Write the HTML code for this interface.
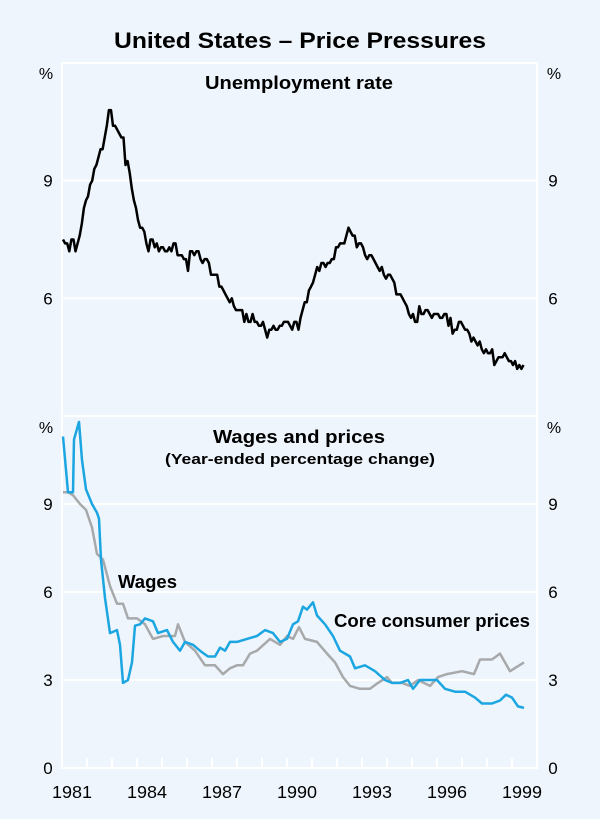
<!DOCTYPE html>
<html><head><meta charset="utf-8"><style>
html,body{margin:0;padding:0;background:#eef5fc;}
svg{display:block;font-family:"Liberation Sans",Arial,sans-serif;}
</style></head><body>
<svg id="chart" width="600" height="819" viewBox="0 0 600 819">
<rect x="0" y="0" width="600" height="819" fill="#eef5fc"/>
<text x="300" y="48" text-anchor="middle" font-size="22.5" font-weight="bold" fill="#000" textLength="372" lengthAdjust="spacingAndGlyphs">United States – Price Pressures</text>
<g id="grid"></g>
<g id="series"></g>
<g id="labels"></g>
</svg>
<script>
const unempStart = 1981;
const unempValues = [
7.5,7.4,7.4,7.2,7.5,7.5,7.2,7.4,7.6,7.9,8.3,8.5,
8.6,8.9,9.0,9.3,9.4,9.6,9.8,9.8,10.1,10.4,10.8,10.8,
10.4,10.4,10.3,10.2,10.1,10.1,9.4,9.5,9.2,8.8,8.5,8.3,
8.0,7.8,7.8,7.7,7.4,7.2,7.5,7.5,7.3,7.4,7.2,7.3,
7.3,7.2,7.2,7.3,7.2,7.4,7.4,7.1,7.1,7.1,7.0,7.0,
6.7,7.2,7.2,7.1,7.2,7.2,7.0,6.9,7.0,7.0,6.9,6.6,
6.6,6.6,6.6,6.3,6.3,6.2,6.1,6.0,5.9,6.0,5.8,5.7,
5.7,5.7,5.7,5.4,5.6,5.4,5.4,5.6,5.4,5.4,5.3,5.3,
5.4,5.2,5.0,5.2,5.2,5.3,5.2,5.2,5.3,5.3,5.4,5.4,
5.4,5.3,5.2,5.4,5.4,5.2,5.5,5.7,5.9,5.9,6.2,6.3,
6.4,6.6,6.8,6.7,6.9,6.9,6.8,6.9,6.9,7.0,7.0,7.3,
7.3,7.4,7.4,7.4,7.6,7.8,7.7,7.6,7.6,7.3,7.4,7.4,
7.3,7.1,7.0,7.1,7.1,7.0,6.9,6.8,6.7,6.8,6.6,6.5,
6.6,6.6,6.5,6.4,6.1,6.1,6.1,6.0,5.9,5.8,5.6,5.5,
5.6,5.4,5.4,5.8,5.6,5.6,5.7,5.7,5.6,5.5,5.6,5.6,
5.6,5.5,5.5,5.6,5.6,5.3,5.5,5.1,5.2,5.2,5.4,5.4,
5.3,5.2,5.2,5.1,4.9,5.0,4.9,4.8,4.9,4.7,4.6,4.7,
4.6,4.6,4.7,4.3,4.4,4.5,4.5,4.5,4.6,4.5,4.4,4.4,
4.3,4.4,4.2,4.3,4.2,4.3];
const coreDates = [1981.04,1981.24,1981.44,1981.48,1981.68,1981.8,1981.96,1982.2,1982.4,1982.48,1982.56,1982.72,1982.92,1983.2,1983.32,1983.44,1983.64,1983.8,1983.92,1984.12,1984.32,1984.64,1984.84,1985.2,1985.44,1985.72,1985.92,1986.24,1986.52,1986.84,1987.12,1987.32,1987.52,1987.72,1988.0,1988.4,1988.8,1989.12,1989.44,1989.72,1990.0,1990.24,1990.44,1990.64,1990.8,1991.04,1991.2,1991.52,1991.84,1992.12,1992.52,1992.72,1993.12,1993.52,1993.92,1994.2,1994.52,1994.84,1995.04,1995.32,1995.64,1996.0,1996.32,1996.72,1997.12,1997.52,1997.8,1998.2,1998.52,1998.76,1999.0,1999.24,1999.48];
const coreValues = [11.3,9.4,9.4,11.2,11.8,10.5,9.5,9.0,8.7,8.5,7.1,5.8,4.6,4.7,4.2,2.9,3.0,3.6,4.85,4.9,5.1,5.0,4.6,4.7,4.3,4.0,4.3,4.2,4.0,3.8,3.8,4.1,4.0,4.3,4.3,4.4,4.5,4.7,4.6,4.3,4.4,4.9,5.0,5.5,5.4,5.65,5.2,4.9,4.5,4.0,3.8,3.4,3.5,3.3,3.0,2.9,2.9,3.0,2.7,3.0,3.0,3.0,2.7,2.6,2.6,2.4,2.2,2.2,2.3,2.5,2.4,2.1,2.05];
const wageDates = [1981.04,1981.24,1981.44,1981.72,1981.96,1982.2,1982.4,1982.64,1982.92,1983.2,1983.44,1983.64,1984.0,1984.32,1984.64,1985.04,1985.52,1985.64,1985.92,1986.32,1986.72,1987.12,1987.44,1987.72,1988.0,1988.24,1988.52,1988.8,1989.32,1989.72,1990.0,1990.24,1990.48,1990.72,1991.2,1991.6,1991.92,1992.24,1992.52,1992.92,1993.32,1993.64,1994.0,1994.2,1994.6,1994.92,1995.24,1995.72,1996.04,1996.4,1997.0,1997.48,1997.72,1998.2,1998.52,1998.92,1999.48];
const wageValues = [9.4,9.4,9.3,9.0,8.8,8.2,7.3,7.1,6.2,5.6,5.6,5.1,5.1,4.9,4.4,4.5,4.5,4.9,4.3,4.0,3.5,3.5,3.2,3.4,3.5,3.5,3.9,4.0,4.4,4.2,4.5,4.4,4.8,4.4,4.3,3.9,3.6,3.1,2.8,2.7,2.7,2.9,3.1,2.9,2.9,2.8,3.0,2.8,3.1,3.2,3.3,3.2,3.7,3.7,3.9,3.3,3.6];
const topTicks = [6, 9];
const bottomTicks = [0, 3, 6, 9];
const yearLabels = [1981, 1984, 1987, 1990, 1993, 1996, 1999];

const NS = "http://www.w3.org/2000/svg";
const L = 62, R = 537, T1 = 63, B1 = 416, T2 = 416, B2 = 768;
const xS = t => L + (t - 1981) * (R - L) / 19;
const y1 = v => B1 - (v - 3) * (B1 - T1) / 9;
const y2 = v => B2 - v * (B2 - T2) / 12;
function mk(tag, attrs, parent) {
  const e = document.createElementNS(NS, tag);
  for (const k in attrs) e.setAttribute(k, attrs[k]);
  parent.appendChild(e);
  return e;
}
const grid = document.getElementById('grid');
const ser = document.getElementById('series');
const lab = document.getElementById('labels');

topTicks.forEach(v => {
  const g = mk('line', {x1: L, x2: R, y1: y1(v), y2: y1(v), stroke: '#fff', 'stroke-width': 2}, grid);
  
  
  [48, 553].forEach(x => {
    const t = mk('text', {x: x, y: y1(v) + 6, 'text-anchor': 'middle', 'font-size': 17}, lab);
    t.textContent = v;
    
    
  });
});
bottomTicks.forEach(v => {
  if (v > 0) {
    const g = mk('line', {x1: L, x2: R, y1: y2(v), y2: y2(v), stroke: '#fff', 'stroke-width': 2}, grid);
    
    
  }
  [48, 553].forEach(x => {
    const t = mk('text', {x: x, y: y2(v) + 6, 'text-anchor': 'middle', 'font-size': 17}, lab);
    t.textContent = v;
    
    
  });
});
const frame = mk('path', {d: `M${L} ${T1} H${R} V${B2} H${L} Z M${L} ${B1} H${R}`, fill: 'none', stroke: '#fff', 'stroke-width': 2}, grid);


for (let yr = 1982; yr <= 1999; yr++) {
  const tk = mk('line', {x1: xS(yr), x2: xS(yr), y1: B2, y2: B2 - 10, stroke: '#fff', 'stroke-width': 2}, grid);
  
  
}
yearLabels.forEach(yr => {
  const t = mk('text', {x: xS(yr + 0.4), y: 798, 'text-anchor': 'middle', 'font-size': 17.5, textLength: 40, lengthAdjust: 'spacingAndGlyphs'}, lab);
  t.textContent = yr;
  
  
});
[[46, 79], [554, 79], [46, 433], [554, 433]].forEach(([x, y]) => {
  const t = mk('text', {x: x, y: y, 'text-anchor': 'middle', 'font-size': 16}, lab);
  t.textContent = '%';
  
  
});
function path(pts) { return pts.map((p, i) => (i ? 'L' : 'M') + p[0].toFixed(1) + ' ' + p[1].toFixed(1)).join(' '); }
const up = unempValues.map((v, i) => [xS(unempStart + i / 12 + 1 / 24), y1(v)]);
const un = mk('path', {d: path(up), fill: 'none', stroke: '#000', 'stroke-width': 2.5, 'stroke-linejoin': 'round'}, ser);


const wg = mk('path', {d: path(wageDates.map((d, i) => [xS(d), y2(wageValues[i])])), fill: 'none', stroke: '#a7a9ab', 'stroke-width': 2.5, 'stroke-linejoin': 'round'}, ser);


const cp = mk('path', {d: path(coreDates.map((d, i) => [xS(d), y2(coreValues[i])])), fill: 'none', stroke: '#1ba6e2', 'stroke-width': 2.5, 'stroke-linejoin': 'round'}, ser);


[['Unemployment rate', 299, 89, 18.5, 'middle', 188, 'top-panel-title'],
 ['Wages and prices', 299, 443, 18.5, 'middle', 172, 'bottom-panel-title'],
 ['(Year-ended percentage change)', 300, 464, 15, 'middle', 270, 'bottom-panel-subtitle'],
 ['Wages', 118, 588, 18.5, 'start', 59, 'wages-label'],
 ['Core consumer prices', 334, 627, 18.5, 'start', 196, 'core-consumer-prices-label']
].forEach(([s, x, y, fs, a, len, n]) => {
  const t = mk('text', {x: x, y: y, 'text-anchor': a, 'font-size': fs, 'font-weight': 'bold', textLength: len, lengthAdjust: 'spacingAndGlyphs'}, lab);
  t.textContent = s;
  
  
});
</script>
</body></html>
